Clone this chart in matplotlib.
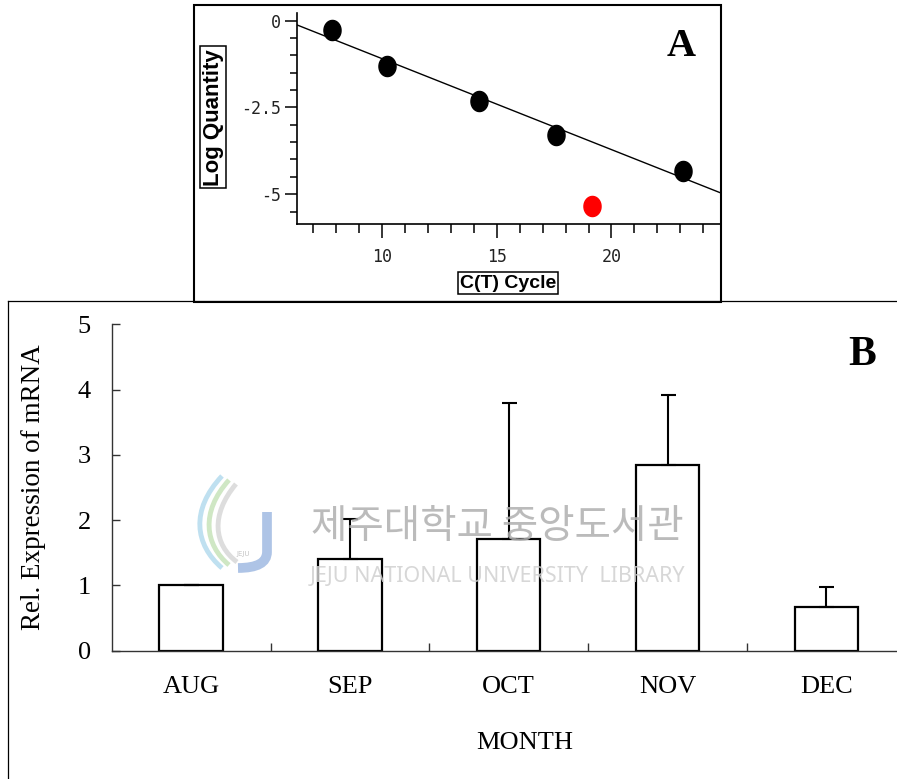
import numpy as np
import matplotlib
matplotlib.use('Agg')
import matplotlib.pyplot as plt
from matplotlib.ticker import FixedLocator, MultipleLocator, FuncFormatter
from matplotlib.transforms import Affine2D
from matplotlib.path import Path
import matplotlib.patches as mpatches
from matplotlib.lines import Line2D

plt.rcParams['axes.unicode_minus'] = False

# Panel A: curva estandar (C(T) vs log cantidad)
ct_ciclos = [7.84, 10.22, 14.23, 17.60, 23.11]
log_cantidad = [-0.27, -1.30, -2.31, -3.30, -4.33]
ct_atipico = [19.13]
log_atipico = [-5.33]
ticks_a_x = [10, 15, 20]
ticks_a_y = [0, -2.5, -5]

# Panel B: expresion relativa por mes
meses = ['AUG', 'SEP', 'OCT', 'NOV', 'DEC']
expresion = [1.0, 1.41, 1.71, 2.85, 0.67]
error_sup = [0.0, 0.60, 2.08, 1.07, 0.31]
ticks_b_y = [0, 1, 2, 3, 4, 5]

W, H = 897, 779
fig = plt.figure(figsize=(W / 100, H / 100), dpi=100)

# transformacion en pixeles (origen arriba a la izquierda)
pix = Affine2D().scale(1 / W, -1 / H).translate(0, 1) + fig.transFigure


def rect_px(x0, y0, x1, y1):
    return [x0 / W, 1 - y1 / H, (x1 - x0) / W, (y1 - y0) / H]


# ---------------- Panel A ----------------
axA = fig.add_axes(rect_px(296.7, 13.3, 720, 224))
axA.set_xlim(6.28, 24.73)
axA.set_ylim(-5.86, 0.21)

pend, inter = np.polyfit(ct_ciclos, log_cantidad, 1)
xs = np.array(axA.get_xlim())
axA.plot(xs, inter + pend * xs, color='black', lw=1.0, zorder=2)

# marcador ligeramente eliptico, como en la imagen original
t = np.linspace(0, 2 * np.pi, 40)
elipse = list(zip(0.85 * np.cos(t), np.sin(t)))
axA.plot(ct_ciclos, log_cantidad, linestyle='none', marker=elipse,
         markersize=14.5, color='black', zorder=3)
axA.plot(ct_atipico, log_atipico, linestyle='none', marker=elipse,
         markersize=14.5, color='#ff0000', zorder=3)

for lado in ['top', 'right']:
    axA.spines[lado].set_visible(False)
for lado in ['left', 'bottom']:
    axA.spines[lado].set_linewidth(1.2)

axA.xaxis.set_major_locator(FixedLocator(ticks_a_x))
axA.yaxis.set_major_locator(FixedLocator(ticks_a_y))
axA.xaxis.set_minor_locator(MultipleLocator(1))
axA.yaxis.set_minor_locator(MultipleLocator(0.5))
fmt = FuncFormatter(lambda v, p: f'{v:g}')
axA.xaxis.set_major_formatter(fmt)
axA.yaxis.set_major_formatter(fmt)
axA.tick_params(axis='x', which='major', length=10.3, width=1.1, pad=7)
axA.tick_params(axis='x', which='minor', length=6.7, width=1.1)
axA.tick_params(axis='y', which='major', length=8.4, width=1.1, pad=3)
axA.tick_params(axis='y', which='minor', length=5.3, width=1.1)
for lab in axA.get_xticklabels() + axA.get_yticklabels():
    lab.set_fontfamily('DejaVu Sans Mono')
    lab.set_fontsize(12)
    lab.set_color('#222222')

caja = dict(boxstyle='square,pad=0.12', facecolor='white', edgecolor='black', lw=1.1)
axA.set_ylabel('Log Quantity', fontfamily='Liberation Sans', fontweight='bold',
               fontsize=16, bbox=caja)
axA.yaxis.set_label_coords(213.3 / W, 1 - 117.3 / H, transform=fig.transFigure)
axA.yaxis.label.set_va('center')
axA.set_xlabel('C(T) Cycle', fontfamily='Liberation Sans', fontweight='bold',
               fontsize=14, bbox=caja)
axA.xaxis.set_label_coords(508 / W, 1 - 283.3 / H, transform=fig.transFigure)
axA.xaxis.label.set_va('center')

fig.text(681 / W, 1 - 56 / H, 'A', fontfamily='Liberation Serif',
         fontweight='bold', fontsize=29, ha='center', va='baseline')

# ---------------- Panel B ----------------
axB = fig.add_axes(rect_px(111.7, 324.3, 897, 650.7))
pos = np.arange(len(meses))
axB.bar(pos, expresion, width=0.40, facecolor='white', edgecolor='black',
        linewidth=1.6, zorder=2)
axB.errorbar(pos, expresion, yerr=[np.zeros(len(meses)), error_sup], fmt='none',
             ecolor='black', elinewidth=1.5, capsize=5.4, capthick=1.5, zorder=3)
axB.set_xlim(-0.5, 4.445)
axB.set_ylim(0, 5)

for lado in ['top', 'right']:
    axB.spines[lado].set_visible(False)
for lado in ['left', 'bottom']:
    axB.spines[lado].set_linewidth(1.0)
    axB.spines[lado].set_color('#333333')

axB.set_yticks(ticks_b_y)
axB.set_xticks(pos)
axB.set_xticklabels(meses)
axB.xaxis.set_minor_locator(FixedLocator(pos[:-1] + 0.5))
axB.tick_params(axis='y', direction='in', length=6, width=1, color='#333333', pad=15)
axB.tick_params(axis='x', which='major', length=0, pad=18)
axB.tick_params(axis='x', which='minor', direction='in', length=6, width=1, color='#333333')
for lab in axB.get_xticklabels() + axB.get_yticklabels():
    lab.set_fontfamily('Liberation Serif')
    lab.set_fontsize(19)

axB.set_ylabel('Rel. Expression of mRNA', fontfamily='Liberation Serif', fontsize=19.5)
axB.yaxis.set_label_coords(33 / W, 1 - 486.7 / H, transform=fig.transFigure)
axB.yaxis.label.set_va('center')
axB.set_xlabel('MONTH', fontfamily='Liberation Serif', fontsize=19)
axB.xaxis.set_label_coords(525 / W, 1 - 742.7 / H, transform=fig.transFigure)
axB.xaxis.label.set_va('center')

fig.text(861.7 / W, 1 - 365 / H, 'B', fontfamily='Liberation Serif',
         fontweight='bold', fontsize=30, ha='center', va='baseline')

# marcos de los paneles
fig.add_artist(mpatches.Rectangle((194, 5), 527, 297.5, transform=pix,
                                  fill=False, edgecolor='black', lw=1.5))
fig.add_artist(Line2D([8, 897], [301.5, 301.5], transform=pix, color='black', lw=0.9))
fig.add_artist(Line2D([8, 8], [301.5, 779], transform=pix, color='black', lw=0.9))

# marca de agua de la biblioteca
fig.text(497 / W, 1 - 527 / H, '제주대학교 중앙도서관', family=['Noto Sans CJK KR'],
         fontsize=28.5, color='#b0b0b0', ha='center', va='center', alpha=0.85, zorder=5)
fig.text(497 / W, 1 - 577 / H, 'JEJU NATIONAL UNIVERSITY  LIBRARY', family=['Noto Sans'],
         fontsize=15.5, color='#d0d0d0', ha='center', va='center', alpha=0.85, zorder=5)

trazos = [
    ([(222, 476), (190, 510), (195, 545), (222, 568)], '#bfe0f0'),
    ([(229, 480), (200, 512), (205, 545), (229, 565)], '#cfe7c4'),
    ([(236, 484), (210, 515), (214, 545), (237, 562)], '#dddddd'),
]
for puntos, col in trazos:
    camino = Path(puntos, [Path.MOVETO, Path.CURVE4, Path.CURVE4, Path.CURVE4])
    fig.add_artist(mpatches.PathPatch(camino, transform=pix, fill=False,
                                      edgecolor=col, lw=3.5, zorder=5))
jota = Path([(267, 512), (267, 552), (267, 568), (238, 568)],
            [Path.MOVETO, Path.LINETO, Path.CURVE3, Path.CURVE3])
fig.add_artist(mpatches.PathPatch(jota, transform=pix, fill=False, edgecolor='#aec4e6',
                                  lw=7, capstyle='butt', zorder=5))
fig.text(243 / W, 1 - 554 / H, 'JEJU', fontsize=5, color='#c4c4c4',
         ha='center', va='center', zorder=5)

fig.savefig('out.png', dpi=100)
